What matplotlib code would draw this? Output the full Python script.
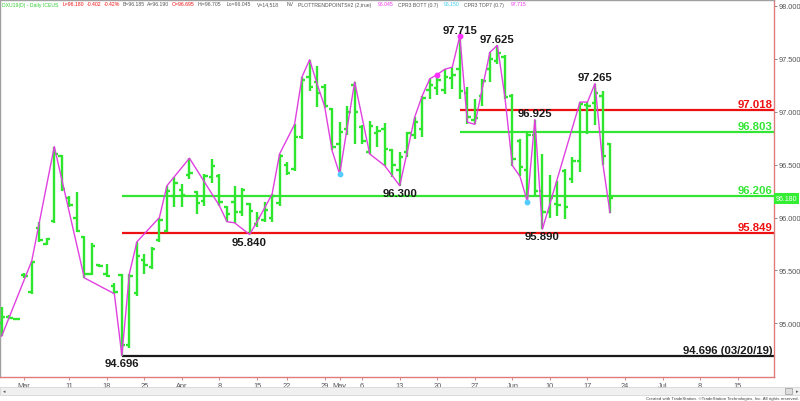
import matplotlib
matplotlib.use("Agg")
import matplotlib.pyplot as plt
import numpy as np
import pandas as pd
from matplotlib.collections import LineCollection
from matplotlib.patches import Rectangle

# ---------------- data ----------------
opens = [95.00, 95.06, 95.04, 95.46, 95.30, 95.90, 95.75, 95.97, 96.58, 96.18,
         96.00, 95.82, 95.47, 95.55, 95.47, 95.35, 95.46, 94.80, 95.29, 95.60,
         95.53, 95.79, 95.87, 96.20, 96.26, 96.40, 96.24, 96.16, 96.38, 96.39,
         96.10, 96.15, 96.05, 96.13, 95.94, 95.98, 96.00, 96.14, 96.50, 96.46,
         96.76, 97.33, 97.28, 97.23, 97.02, 96.69, 96.84, 97.25, 96.85, 96.62,
         96.80, 96.84, 96.64, 96.45, 96.62, 96.78, 96.84, 97.20, 97.22, 97.20,
         97.32, 97.40, 97.18, 96.92, 97.15, 97.40, 97.48, 97.52, 97.15, 96.72,
         96.45, 96.78, 96.25, 96.05, 96.13, 96.44, 96.36, 96.53, 97.06, 97.08,
         97.15, 96.695]
highs = [95.155, 95.075, 95.05, 95.48, 95.59, 95.955, 95.81, 96.67, 96.59, 96.20,
         96.24, 95.83, 95.76, 95.56, 95.56, 95.38, 95.47, 95.47, 95.77, 95.66,
         95.72, 96.00, 96.30, 96.38, 96.32, 96.56, 96.25, 96.41, 96.55, 96.41,
         96.11, 96.30, 96.28, 96.14, 96.05, 96.15, 96.22, 96.60, 96.52, 96.88,
         97.33, 97.49, 97.43, 97.26, 97.03, 96.90, 97.05, 97.28, 96.87, 96.91,
         96.86, 96.89, 96.65, 96.62, 96.81, 96.95, 97.15, 97.31, 97.35, 97.40,
         97.42, 97.715, 97.23, 97.12, 97.31, 97.56, 97.625, 97.53, 97.17, 96.74,
         96.82, 96.925, 96.60, 96.40, 96.34, 96.46, 96.57, 97.09, 97.09, 97.265,
         97.19, 96.705]
lows = [94.88, 95.04, 95.03, 95.43, 95.28, 95.77, 95.74, 95.95, 96.25, 96.10,
        95.86, 95.43, 95.46, 95.53, 95.44, 95.28, 94.696, 94.77, 95.26, 95.47,
        95.51, 95.77, 95.86, 96.10, 96.10, 96.36, 96.03, 96.11, 96.33, 96.11,
        95.96, 95.95, 96.01, 95.84, 95.91, 95.96, 95.96, 96.11, 96.40, 96.44,
        96.74, 97.19, 97.04, 97.03, 96.64, 96.41, 96.78, 96.69, 96.69, 96.60,
        96.67, 96.49, 96.38, 96.30, 96.57, 96.74, 96.76, 97.12, 97.16, 97.17,
        97.21, 97.12, 96.88, 96.88, 97.05, 97.28, 97.45, 97.12, 96.49, 96.39,
        96.15, 96.20, 95.89, 96.00, 96.01, 95.99, 96.33, 96.43, 96.79, 96.87,
        96.50, 96.045]
closes = [95.06, 95.05, 95.04, 95.45, 95.58, 95.79, 95.80, 96.60, 96.27, 96.12,
          95.87, 95.47, 95.73, 95.54, 95.45, 95.30, 94.80, 95.45, 95.64, 95.55,
          95.70, 95.98, 96.25, 96.33, 96.21, 96.42, 96.14, 96.39, 96.49, 96.15,
          96.03, 96.05, 96.26, 96.06, 96.00, 96.07, 96.20, 96.58, 96.42, 96.76,
          97.30, 97.23, 97.18, 97.05, 96.67, 96.81, 97.00, 97.00, 96.72, 96.86,
          96.82, 96.65, 96.50, 96.57, 96.80, 96.90, 97.13, 97.25, 97.30, 97.33,
          97.35, 97.19, 96.95, 96.94, 97.29, 97.50, 97.55, 97.14, 96.55, 96.48,
          96.78, 96.25, 96.05, 96.18, 96.12, 96.10, 96.53, 97.07, 97.05, 97.18,
          96.58, 96.18]

# zigzag trend points (1-based bar number, value)
zz_bars = [1, 5, 8, 12, 16, 17, 18, 19, 22, 23, 26, 30, 31, 32, 34, 35, 37, 38,
           40, 41, 42, 43, 44, 45, 46, 48, 50, 52, 54, 55, 56, 57, 58, 59, 60, 61,
           62, 63, 64, 66, 67, 68, 69, 70, 71, 72, 73, 78, 79, 80, 81, 82]
zz_vals = [94.88, 95.59, 96.67, 95.43, 95.28, 94.696, 95.47, 95.77, 96.00, 96.30,
           96.56, 96.11, 95.96, 95.95, 95.84, 95.96, 96.22, 96.60, 96.88, 97.33,
           97.49, 97.26, 97.05, 96.63, 96.41, 97.28, 96.60, 96.49, 96.30, 96.62,
           96.95, 97.15, 97.31, 97.35, 97.40, 97.42, 97.715, 96.90, 96.88, 97.56,
           97.625, 97.14, 96.49, 96.39, 96.15, 96.925, 95.89, 97.09, 97.09, 97.265,
           96.53, 96.045]
top_dot_bars = [59, 62]
bot_dot_bars = [46, 71]

pivot_bars = [62, 67, 72, 80, 54, 73, 34, 17]
pivot_text = ["97.715", "97.625", "96.925", "97.265", "96.300", "95.890", "95.840", "94.696"]
pivot_above = [True, True, True, True, False, False, False, False]

level_values = [97.018, 96.803, 96.206, 95.849, 94.696]
level_text = ["97.018", "96.803", "96.206", "95.849", "94.696 (03/20/19)"]
level_start_bar = [62, 62, 17, 17, 17]
level_kind = ["red", "green", "green", "red", "black"]

first_date = "2019-02-26"
last_date = "2019-07-31"
closed_days = ["2019-04-19"]
tick_dates = ["2019-03-01", "2019-03-11", "2019-03-18", "2019-03-25", "2019-04-01",
              "2019-04-08", "2019-04-15", "2019-04-22", "2019-04-29", "2019-05-01",
              "2019-05-06", "2019-05-13", "2019-05-20", "2019-05-27", "2019-06-03",
              "2019-06-10", "2019-06-17", "2019-06-24", "2019-07-01", "2019-07-08",
              "2019-07-15"]
tick_labels = ["Mar", "11", "18", "25", "Apr", "8", "15", "22", "29", "May", "6",
               "13", "20", "27", "Jun", "10", "17", "24", "Jul", "8", "15"]
y_ticks = [95.0, 95.5, 96.0, 96.5, 97.0, 97.5, 98.0]
last_price = 96.180

# ---------------- styling ----------------
BAR = "#2fe62f"
RED = "#ee1111"
GREEN = "#33e633"
BLACK = "#1a1a1a"
ZZ = "#e040e0"
kind_color = {"red": RED, "green": GREEN, "black": BLACK}
FONT = ["Liberation Sans", "DejaVu Sans"]
plt.rcParams["font.family"] = FONT

W, H = 800, 402
fig = plt.figure(figsize=(W / 100, H / 100), dpi=100)
px_left, px_right, px_top, px_bot = 0, 774, 1, 378
ax = fig.add_axes([px_left / W, 1 - px_bot / H, (px_right - px_left) / W, (px_bot - px_top) / H])

# calendar
dates = pd.bdate_range(first_date, last_date)
dates = dates[~dates.isin(pd.to_datetime(closed_days))]
pos_of = {d: i for i, d in enumerate(dates)}
tick_pos = [pos_of[pd.Timestamp(d)] for d in tick_dates]

n = len(opens)
xs = np.arange(n)
o, h, l, c = map(np.asarray, (opens, highs, lows, closes))
tw = 0.45
segs = []
for i in range(n):
    segs.append([(xs[i], l[i]), (xs[i], h[i])])
    segs.append([(xs[i] - tw, o[i]), (xs[i], o[i])])
    segs.append([(xs[i], c[i]), (xs[i] + tw, c[i])])
ax.add_collection(LineCollection(segs, colors=BAR, linewidths=1.7, capstyle="butt", zorder=3))

# zigzag
zx = np.asarray(zz_bars) - 1
ax.plot(zx, zz_vals, color=ZZ, lw=1.0, zorder=4)
zmap = dict(zip(zz_bars, zz_vals))
ax.plot([b - 1 for b in top_dot_bars], [zmap[b] for b in top_dot_bars], "o",
        color="#ff30ff", ms=3.2, zorder=5)
ax.plot([b - 1 for b in bot_dot_bars], [zmap[b] for b in bot_dot_bars], "o",
        color="#55ccff", ms=3.2, zorder=5)

# limits (pixel-calibrated)
x0, dx = 1.7, 7.51
ax.set_xlim((px_left - x0) / dx, (px_right - x0) / dx)
y98, ppu = 6.7, 105.9
ax.set_ylim(98 - (px_bot - y98) / ppu, 98 + (y98 - px_top) / ppu)
xmax = ax.get_xlim()[1]

# levels
for v, t, sb, k in zip(level_values, level_text, level_start_bar, level_kind):
    col = kind_color[k]
    ax.plot([sb - 1, xmax], [v, v], color=col, lw=1.6, zorder=2, solid_capstyle="butt")
    ax.annotate(t, xy=(1, v), xycoords=("axes fraction", "data"), xytext=(-1, 2.2),
                textcoords="offset points", ha="right", va="baseline",
                fontsize=8.2, fontweight="bold", color=col, zorder=6)

# pivot labels
for b, t, up in zip(pivot_bars, pivot_text, pivot_above):
    v = (h if up else l)[b - 1]
    ax.annotate(t, xy=(b - 1, v), xytext=(0, 2.2 if up else -1.5), textcoords="offset points",
                ha="center", va="baseline" if up else "top", fontsize=8.2,
                fontweight="bold", color=BLACK, zorder=6)

# axes style
for s in ["top", "left"]:
    ax.spines[s].set_color("#a0a0a0")
    ax.spines[s].set_linewidth(1.0)
for s in ["right", "bottom"]:
    ax.spines[s].set_color("#e07b7b")
    ax.spines[s].set_linewidth(1.0)
ax.yaxis.tick_right()
ax.set_yticks(y_ticks)
ax.set_yticklabels([f"{v:.3f}" for v in y_ticks])
ax.tick_params(axis="y", right=True, left=False, length=2.5, width=0.7, colors="#888888",
               labelsize=5.3, labelcolor="#555555", pad=1)
ax.set_xticks(tick_pos)
ax.set_xticklabels(tick_labels)
ax.tick_params(axis="x", length=2.5, width=0.7, colors="#d08a8a", labelsize=5.3,
               labelcolor="#555555", pad=1.0)
ax.set_facecolor("white")

# last price box
ax.annotate(f"{last_price:.3f}", xy=(1, last_price), xycoords=("axes fraction", "data"),
            xytext=(1.5, 0), textcoords="offset points", ha="left", va="center",
            fontsize=5.0, color="white", annotation_clip=False,
            bbox=dict(boxstyle="square,pad=0.25", fc="#33ee33", ec="none"))

# header
hdr = [("DXU19(D) - Daily ICEUS", 2, "#33cc33"), ("L=96.180", 63, RED), ("-0.402", 87, RED),
       ("-0.42%", 104, RED), ("B=96.185", 123, "#555555"), ("A=96.190", 147, "#555555"),
       ("O=96.695", 172, RED), ("Hi=96.705", 198, "#555555"), ("Lo=96.045", 227, "#555555"),
       ("V=14,518", 257, "#555555"), ("NV", 287, "#555555"),
       ("PLOTTRENDPOINTS#2 (2,true)", 298, "#555555"), ("96.045", 378, "#ee33ee"),
       ("CPR3 BOTT (0.7)", 398, "#555555"), ("96.150", 444, "#33ccee"),
       ("CPR3 TOP7 (0.7)", 464, "#555555"), ("97.715", 511, "#ee33ee")]
for t, xp, col in hdr:
    fig.text(xp / W, 1 - 5 / H, t, fontsize=3.7, color=col, ha="left", va="center")

# scrollbar strip
fig.patches.append(Rectangle((0, 1 - 396 / H), 1, 8 / H, transform=fig.transFigure,
                             fc="#f0f0f0", ec="#d0d0d0", lw=0.5))
fig.patches.append(Rectangle((785 / W, 1 - 395 / H), 7 / W, 6 / H, transform=fig.transFigure,
                             fc="#dddddd", ec="#999999", lw=0.5))
fig.text(3 / W, 1 - 392 / H, "\u25c2", fontsize=3.5, color="#555555", ha="left", va="center",
         family="DejaVu Sans")
fig.text(797 / W, 1 - 392 / H, "\u25b8", fontsize=3.5, color="#555555", ha="center", va="center",
         family="DejaVu Sans")
fig.text(799 / W, 1 - 399 / H,
         "Created with TradeStation. \u00a9TradeStation Technologies, Inc. All rights reserved.",
         fontsize=3.2, color="#444444", ha="right", va="center")

fig.savefig("out.png", dpi=100)
